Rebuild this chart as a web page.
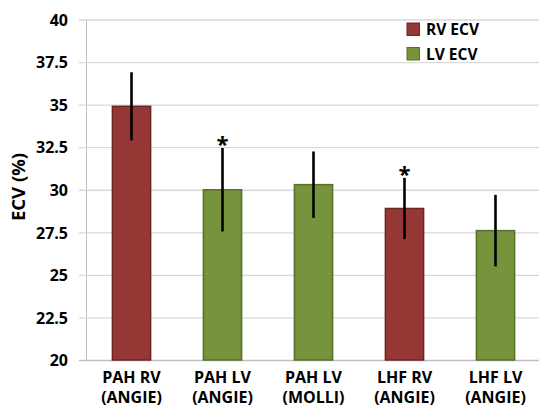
<!DOCTYPE html>
<html>
<head>
<meta charset="utf-8">
<script src="https://cdn.jsdelivr.net/npm/d3@7"></script>
<style>
  body { margin: 0; background: #fff; }
  text { font-family: "Open Sans", sans-serif; font-weight: bold; fill: #000; }
</style>
</head>
<body>
<div id="chart"></div>
<script>
/// DATA

const categories = ["PAH RV|(ANGIE)", "PAH LV|(ANGIE)", "PAH LV|(MOLLI)", "LHF RV|(ANGIE)", "LHF LV|(ANGIE)"]
const series = ["RV", "LV", "LV", "RV", "LV"]
const values = [34.9, 30.0, 30.3, 28.9, 27.6]
const errors = [2.0, 2.45, 1.95, 1.8, 2.1]
const significant = [false, true, false, true, false]
const yTicks = [20, 22.5, 25, 27.5, 30, 32.5, 35, 37.5, 40]
const legendItems = [
  { key: "RV", label: "RV ECV" },
  { key: "LV", label: "LV ECV" },
]

const width = 539
const height = 408

const margins = {
  top: 19.5,
  right: 0,
  bottom: 48,
  left: 86,
}

const fillColor = { RV: "#953735", LV: "#77933c" }
const strokeColor = { RV: "#6b2523", LV: "#56702a" }

/// SCALES

const xScale = d3
  .scaleBand()
  .domain(categories)
  .range([margins.left, 541])
  .paddingInner(0.58)
  .paddingOuter(0.29)

const yScale = d3
  .scaleLinear()
  .domain([20, 40])
  .range([height - margins.bottom, margins.top])

const svg = d3
  .select("#chart")
  .append("svg")
  .attr("width", width)
  .attr("height", height)
  .attr("viewBox", [0, 0, width, height])

// grid + y axis
const yAxisGenerator = d3
  .axisLeft()
  .scale(yScale)
  .tickValues(yTicks)
  .tickFormat(d3.format("~g"))
  .tickSizeInner(-(width - margins.left))
  .tickSizeOuter(0)
  .tickPadding(0)

const yAxis = svg
  .append("g")
  .attr("transform", `translate(${margins.left},0)`)
  .call(yAxisGenerator)

yAxis.select(".domain").attr("stroke", "#bfbfbf")
yAxis
  .selectAll(".tick line")
  .attr("x1", -7)
  .attr("stroke", (d) => (d === 20 ? "#bfbfbf" : "#d9d9d9"))
  .attr("stroke-width", 1.3)
yAxis
  .selectAll(".tick text")
  .attr("x", -18)
  .attr("dy", "0.36em")
  .style("font-size", "16px")
  .style("font-family", "'Open Sans', sans-serif")
  .style("font-weight", "bold")
  .attr("fill", "#000")

svg
  .append("text")
  .attr("transform", `translate(25,187) rotate(-90)`)
  .attr("text-anchor", "middle")
  .style("font-size", "18.5px")
  .text("ECV (%)")

//// BARS

const barWidth = xScale.bandwidth()

svg
  .selectAll(".bar")
  .data(categories)
  .join("rect")
  .attr("class", "bar")
  .attr("x", (d) => xScale(d))
  .attr("y", (d, i) => yScale(values[i]))
  .attr("width", barWidth)
  .attr("height", (d, i) => yScale(20) - yScale(values[i]))
  .attr("fill", (d, i) => fillColor[series[i]])
  .attr("stroke", (d, i) => strokeColor[series[i]])
  .attr("stroke-width", 1.5)

// error bars
svg
  .selectAll(".err")
  .data(categories)
  .join("line")
  .attr("class", "err")
  .attr("x1", (d) => xScale(d) + barWidth / 2)
  .attr("x2", (d) => xScale(d) + barWidth / 2)
  .attr("y1", (d, i) => yScale(values[i] + errors[i]))
  .attr("y2", (d, i) => yScale(values[i] - errors[i]))
  .attr("stroke", "#000")
  .attr("stroke-width", 2.6)

// asterisks
svg
  .selectAll(".star")
  .data(categories.filter((d, i) => significant[i]))
  .join("text")
  .attr("class", "star")
  .attr("x", (d) => xScale(d) + barWidth / 2)
  .attr("y", (d) => {
    const i = categories.indexOf(d)
    return yScale(values[i] + errors[i]) + 4
  })
  .attr("text-anchor", "middle")
  .style("font-size", "22px")
  .text("*")

// category labels
const catLabels = svg
  .selectAll(".cat")
  .data(categories)
  .join("text")
  .attr("class", "cat")
  .attr("text-anchor", "middle")
  .style("font-size", "16px")

catLabels
  .selectAll("tspan")
  .data((d) => d.split("|").map((t) => ({ t, x: xScale(d) + barWidth / 2 })))
  .join("tspan")
  .attr("x", (d) => d.x)
  .attr("y", (d, i) => 383 + i * 19.5)
  .text((d) => d.t)

///////////////////////// LEGEND ///////////////

const legend = svg
  .append("g")
  .attr("transform", "translate(407,23)")

const legendRows = legend
  .selectAll("g")
  .data(legendItems)
  .join("g")
  .attr("transform", (d, i) => `translate(0,${i * 24.5})`)

legendRows
  .append("rect")
  .attr("width", 12.5)
  .attr("height", 12.5)
  .attr("fill", (d) => fillColor[d.key])
  .attr("stroke", (d) => strokeColor[d.key])
  .attr("stroke-width", 1)

legendRows
  .append("text")
  .attr("x", 19)
  .attr("y", 12)
  .style("font-size", "15.5px")
  .text((d) => d.label)
</script>
</body>
</html>
